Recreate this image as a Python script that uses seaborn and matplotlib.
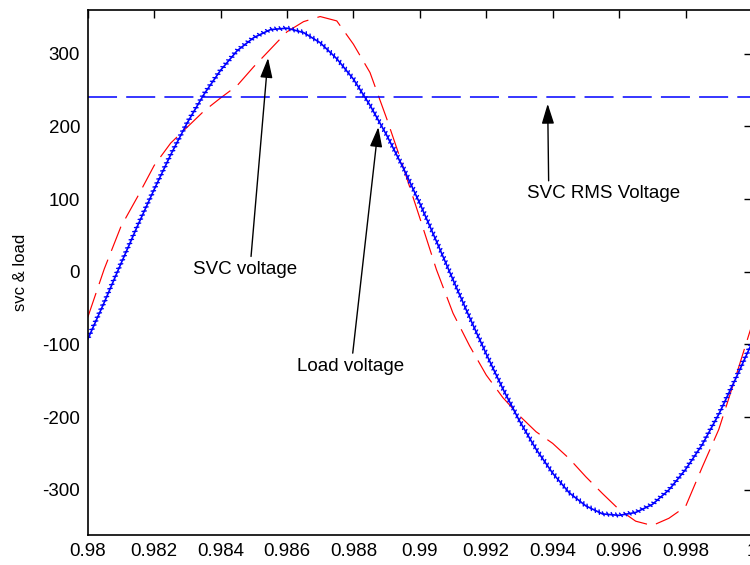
import numpy as np
import pandas as pd
import matplotlib
matplotlib.use('Agg')
import matplotlib.pyplot as plt
import matplotlib.patheffects as pe
from matplotlib.ticker import FuncFormatter, MultipleLocator
import seaborn as sns

# ---------- Data ----------
time_s = [0.9800, 0.9805, 0.9810, 0.9815, 0.9820, 0.9825, 0.9830, 0.9835,
          0.9840, 0.9845, 0.9850, 0.9855, 0.9860, 0.9865, 0.9870, 0.9875,
          0.9880, 0.9885, 0.9890, 0.9895, 0.9900, 0.9905, 0.9910, 0.9915,
          0.9920, 0.9925, 0.9930, 0.9935, 0.9940, 0.9945, 0.9950, 0.9955,
          0.9960, 0.9965, 0.9970, 0.9975, 0.9980, 0.9985, 0.9990, 0.9995,
          1.0000]

svc_voltage = [-93, -42, 11, 63, 113, 161, 205, 244, 277, 304, 322, 333,
               335, 329, 315, 293, 265, 229, 188, 143, 94, 42, -11, -63,
               -113, -161, -205, -244, -277, -304, -322, -333, -335, -331,
               -320, -300, -272, -238, -196, -148, -98]

load_voltage = [-63, 4, 62, 103, 146, 177, 199, 221, 239, 256, 282, 306,
                330, 344, 351, 345, 313, 274, 211, 144, 74, 3, -57, -102,
                -142, -173, -198, -220, -236, -257, -282, -305, -327, -343,
                -349, -339, -323, -269, -217, -146, -73]

svc_rms = 240

# annotations: (text, arrow tip time, tip value, text time, text value, arrow start on text)
notes = [
    ('SVC voltage', 0.98543, 294, 0.98475, 3, 0.55),
    ('Load voltage', 0.98875, 199, 0.98790, -130, 0.52),
    ('SVC RMS Voltage', 0.99385, 231, 0.99554, 107, 0.14),
]

df = pd.DataFrame({'t': time_s, 'svc': svc_voltage, 'load': load_voltage})

# ---------- Style ----------
sns.set_theme(style='white')
plt.rcParams['font.family'] = ['Liberation Sans', 'DejaVu Sans']
FS = 13.5

fig = plt.figure(figsize=(7.5, 5.65), dpi=100)
ax = fig.add_axes([0.1169, 0.0531, 0.8857, 0.9292])

# load voltage (red dashed)
sns.lineplot(data=df, x='t', y='load', ax=ax, color='#ff0000', lw=0.85,
             linestyle=(0, (22, 8)), estimator=None, sort=False)

# svc voltage (blue with switching ripple)
ripple = [pe.TickedStroke(spacing=3.2, angle=120, length=0.55, linewidth=1.0),
          pe.TickedStroke(spacing=3.2, angle=-60, length=0.45, linewidth=1.0),
          pe.Normal()]
sns.lineplot(data=df, x='t', y='svc', ax=ax, color='#0000ff', lw=1.2,
             estimator=None, sort=False, path_effects=ripple)

# svc rms voltage
ax.axhline(svc_rms, color='#0000ff', lw=1.1, linestyle=(0, (19, 6)))

for text, tx, ty, lx, ly, rp in notes:
    ax.annotate(text, xy=(tx, ty), xytext=(lx, ly), fontsize=FS,
                ha='center', va='center', color='black',
                arrowprops=dict(arrowstyle='-|>,head_length=0.9,head_width=0.28',
                                color='black', lw=1.0, shrinkA=1, shrinkB=0,
                                relpos=(rp, 1.0)))

ax.set_xlim(0.98, 1.0)
ax.set_ylim(-362, 360)
ax.xaxis.set_major_locator(MultipleLocator(0.002))
ax.yaxis.set_major_locator(MultipleLocator(100))
ax.xaxis.set_major_formatter(FuncFormatter(lambda v, p: f'{v:g}'))
ax.yaxis.set_major_formatter(FuncFormatter(lambda v, p: f'{v:g}'))
ax.tick_params(direction='in', length=6, width=1, top=True, right=True,
               labelsize=FS, colors='black', pad=5.5)
ax.set_xlabel('')
ax.set_ylabel('svc & load', fontsize=FS - 1.5, labelpad=10, color='black')
for s in ax.spines.values():
    s.set_color('black')
    s.set_linewidth(1.2)

plt.savefig('out.png', dpi=100)
